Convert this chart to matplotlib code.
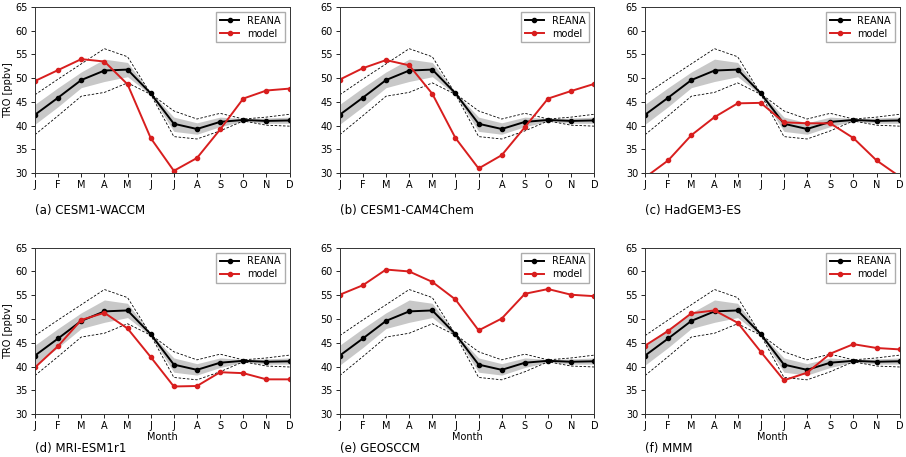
"""
Cycle saisonnier TRO : REANA vs modeles
"""
import numpy as np
import matplotlib.pyplot as plt

plt.rcParams['font.size'] = 7

months = ['J', 'F', 'M', 'A', 'M', 'J', 'J', 'A', 'S', 'O', 'N', 'D']

reana = [42.3, 45.9, 49.6, 51.6, 51.8, 46.8, 40.4, 39.3, 40.8, 41.2, 41.0, 41.1]
band_hi = [44.5, 48.0, 51.3, 54.0, 53.3, 47.0, 41.8, 40.6, 41.8, 41.5, 41.6, 41.8]
band_lo = [40.3, 44.0, 48.0, 49.3, 50.3, 46.5, 38.8, 38.2, 39.8, 40.9, 40.5, 40.5]
dash_hi = [46.5, 49.8, 53.0, 56.2, 54.5, 46.7, 43.1, 41.4, 42.6, 41.4, 41.8, 42.4]
dash_lo = [38.1, 42.1, 46.2, 47.0, 49.0, 46.6, 37.7, 37.2, 38.9, 41.0, 40.1, 39.9]

cesm_waccm = [49.4, 51.7, 54.0, 53.5, 48.7, 37.4, 30.5, 33.2, 39.2, 45.7, 47.4, 47.8]
cesm_cam4 = [49.7, 52.1, 53.8, 52.7, 46.7, 37.4, 31.0, 33.8, 39.7, 45.7, 47.3, 48.8]
hadgem = [29.1, 32.7, 38.0, 41.8, 44.7, 44.8, 40.7, 40.5, 40.5, 37.4, 32.7, 29.3]
mri = [39.8, 44.3, 49.8, 51.3, 48.0, 42.0, 35.8, 35.9, 38.8, 38.6, 37.3, 37.3]
geosccm = [55.1, 57.1, 60.4, 60.0, 57.8, 54.1, 47.6, 50.1, 55.3, 56.3, 55.1, 54.8]
mmm = [44.4, 47.5, 51.2, 51.8, 49.2, 43.1, 37.1, 38.7, 42.7, 44.7, 43.9, 43.6]

panels = [('(a) CESM1-WACCM', cesm_waccm),
          ('(b) CESM1-CAM4Chem', cesm_cam4),
          ('(c) HadGEM3-ES', hadgem),
          ('(d) MRI-ESM1r1', mri),
          ('(e) GEOSCCM', geosccm),
          ('(f) MMM', mmm)]

lefts = [0.0386, 0.375, 0.712]
bottoms = [0.621, 0.094]
w, h = 0.281, 0.364

fig = plt.figure(figsize=(9.06, 4.57), dpi=100)
x = np.arange(12)

for i, (title, model) in enumerate(panels):
    row, col = divmod(i, 3)
    ax = fig.add_axes([lefts[col], bottoms[row], w, h])
    ax.fill_between(x, band_lo, band_hi, color='#c8c8c8', lw=0)
    ax.plot(x, dash_hi, 'k--', lw=0.6, dashes=(3, 2))
    ax.plot(x, dash_lo, 'k--', lw=0.6, dashes=(3, 2))
    ax.plot(x, reana, color='black', lw=1.4, marker='o', ms=3.0, label='REANA')
    ax.plot(x, model, color='#d81e1e', lw=1.4, marker='o', ms=3.0, label='model')
    ax.set_xlim(0, 11)
    ax.set_ylim(30, 65)
    ax.set_xticks(x)
    ax.set_xticklabels(months)
    ax.set_yticks(np.arange(30, 66, 5))
    ax.tick_params(length=3, width=0.6, pad=2)
    for s in ax.spines.values():
        s.set_linewidth(0.7)
        s.set_color('#333333')
    if col == 0:
        ax.set_ylabel('TRO [ppbv]', labelpad=2)
    if row == 1:
        ax.set_xlabel('Month', labelpad=1)
    ax.legend(loc='upper right', fontsize=7, handlelength=2.0, borderpad=0.4,
              labelspacing=0.3, fancybox=False, edgecolor='#999999')
    ty = bottoms[row] - (0.082 if row == 0 else 0.075)
    fig.text(lefts[col], ty, title, fontsize=8.5, va='center', ha='left')

fig.savefig('out.png', dpi=100)
plt.close()
